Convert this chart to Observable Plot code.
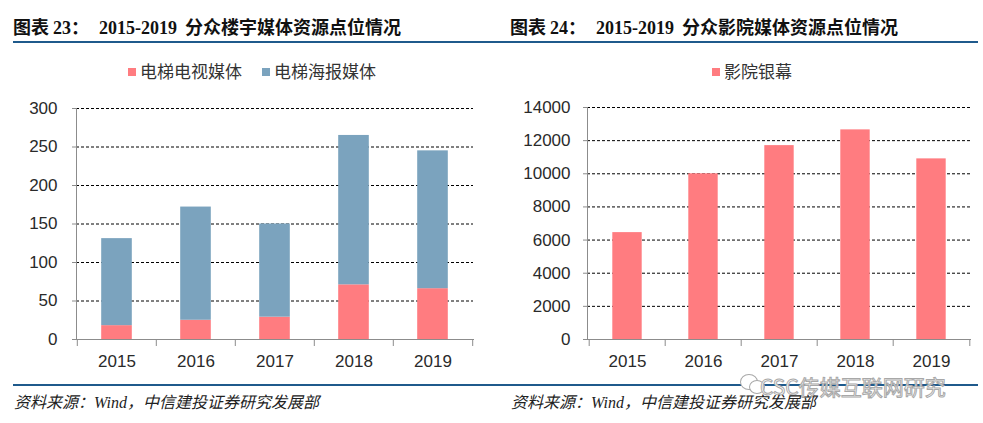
<!DOCTYPE html>
<html><head><meta charset="utf-8">
<script src="https://cdn.jsdelivr.net/npm/d3@7"></script>
<script src="https://cdn.jsdelivr.net/npm/@observablehq/plot@0.6"></script>
<style>
body{margin:0;background:#fff;}
#page{position:relative;width:983px;height:423px;overflow:hidden;background:#fff;font-family:"Liberation Sans",Arial,"Noto Sans CJK SC",sans-serif;}
.title{position:absolute;top:15px;font-family:"Liberation Serif","Noto Sans CJK SC",serif;font-weight:bold;font-size:18px;color:#111;white-space:nowrap;line-height:22px}
.title .cjk{font-family:"Noto Sans CJK SC",sans-serif;}
.rule{position:absolute;left:13px;width:965px;height:2px;background:#1f5a8c}
.legend{position:absolute;top:61px;font-size:17px;color:#333;white-space:nowrap;font-family:"Noto Sans CJK SC",sans-serif;line-height:20px}
.legend span.item{margin-right:20px}
.sw{display:inline-block;width:8px;height:8px;margin-right:4px;vertical-align:middle;position:relative;top:-1px}
.chart{position:absolute;top:95px}
.source{position:absolute;top:394px;font-family:"Liberation Serif","Noto Sans CJK SC",serif;font-style:italic;font-size:16px;color:#222;white-space:nowrap;line-height:18px}
.wm{position:absolute;left:760px;top:376px;font-family:"Noto Sans CJK SC",sans-serif;font-size:21px;color:#fff;-webkit-text-stroke:1px #a8a8a8;white-space:nowrap;line-height:20px}
.wmicon{position:absolute;border:1.5px solid #a8a8a8;border-radius:50%;background:#fff}
</style>
</head>
<body>
<div id="page">
  <div class="title" style="left:13px"><span class="cjk">图表</span><span style="margin-left:4px">23：</span><span style="margin-left:10px">2015-2019</span><span class="cjk" style="margin-left:8px">分众楼宇媒体资源点位情况</span></div>
  <div class="title" style="left:510px"><span class="cjk">图表</span><span style="margin-left:4px">24：</span><span style="margin-left:10px">2015-2019</span><span class="cjk" style="margin-left:8px">分众影院媒体资源点位情况</span></div>
  <div class="rule" style="top:41px"></div>
  <div class="legend" id="legend1" style="left:128px"></div>
  <div class="legend" id="legend2" style="left:712px"></div>
  <div class="chart" id="chart1" style="left:0px"></div>
  <div class="chart" id="chart2" style="left:490px"></div>
  <div class="rule" style="top:384px"></div>
  <div class="wmicon" style="left:740px;top:374px;width:16px;height:14px"></div>
  <div class="wmicon" style="left:749px;top:380px;width:14px;height:12px"></div>
  <div class="wm">CSC传媒互联网研究</div>
  <div class="source" style="left:14px">资料来源：Wind，中信建投证券研究发展部</div>
  <div class="source" style="left:511px">资料来源：Wind，中信建投证券研究发展部</div>
</div>
<script>
// ---- data ----
const years = ["2015", "2016", "2017", "2018", "2019"];
const seriesNames = ["电梯电视媒体", "电梯海报媒体"];
const tvMedia = [18, 25, 29, 71, 66];
const posterMedia = [113, 147, 121, 194, 179];
const cinemaName = "影院银幕";
const cinemaScreens = [6450, 10000, 11700, 12650, 10900];
const yTicksLeft = [0, 50, 100, 150, 200, 250, 300];
const yTicksRight = [0, 2000, 4000, 6000, 8000, 10000, 12000, 14000];
const colors = ["#FF7C80", "#7BA3BE"];

// ---- legends ----
function legend(el, names, cols) {
  el.innerHTML = names.map((n, i) =>
    `<span class="item"><span class="sw" style="background:${cols[i]}"></span>${n}</span>`).join("");
}
legend(document.getElementById("legend1"), seriesNames, colors);
legend(document.getElementById("legend2"), [cinemaName], [colors[0]]);

const axisGray = "#8c8c8c";
const H = 280, mB = 36;

function chart({width, marginLeft, marginRight, marginTop, data, ydomain, yticks, fill, colorScale, barW, tickPad}) {
  const step = (width - marginLeft - marginRight) / years.length;
  const inset = (step - barW) / 2;
  const plotH = H - marginTop - mB;
  const plotW = width - marginLeft - marginRight;
  return Plot.plot({
    width, height: H, marginLeft, marginRight, marginTop, marginBottom: mB,
    style: {fontFamily: "Liberation Sans, Arial, sans-serif", fontSize: "17px", color: "#2a2a2a", background: "transparent", overflow: "visible"},
    x: {domain: years, padding: 0, label: null},
    y: {domain: ydomain, label: null},
    color: colorScale,
    marks: [
      Plot.gridY(yticks.filter(v => v > 0), {stroke: "#000", strokeOpacity: 1, strokeDasharray: "3,2", strokeWidth: 1}),
      Plot.barY(data, {x: "year", y: "value", fill, insetLeft: inset, insetRight: inset}),
      Plot.ruleY(yticks, {stroke: axisGray, insetLeft: -4, insetRight: plotW}),
      Plot.frame({anchor: "left", stroke: axisGray}),
      Plot.frame({anchor: "bottom", stroke: axisGray}),
      Plot.ruleX(years, {x: d => d, dx: -step / 2, stroke: axisGray, insetTop: plotH, insetBottom: -7}),
      Plot.ruleX(years.slice(-1), {x: d => d, dx: step / 2, stroke: axisGray, insetTop: plotH, insetBottom: -7}),
      Plot.axisY(yticks, {tickSize: 0, tickPadding: tickPad, label: null, fill: "#2a2a2a", tickFormat: d => String(d)}),
      Plot.axisX({tickSize: 0, tickPadding: 15, label: null, fill: "#2a2a2a"})
    ]
  });
}

const rows1 = [];
seriesNames.forEach((s, i) => {
  const vals = i === 0 ? tvMedia : posterMedia;
  years.forEach((y, j) => rows1.push({year: y, series: s, value: vals[j]}));
});
document.getElementById("chart1").appendChild(chart({
  width: 490, marginLeft: 76, marginRight: 17, marginTop: 13,
  data: rows1, ydomain: [0, 300], yticks: yTicksLeft, fill: "series",
  colorScale: {domain: seriesNames, range: colors}, barW: 31, tickPad: 19
}));

const rows2 = years.map((y, j) => ({year: y, series: cinemaName, value: cinemaScreens[j]}));
document.getElementById("chart2").appendChild(chart({
  width: 493, marginLeft: 97, marginRight: 13, marginTop: 12,
  data: rows2, ydomain: [0, 14000], yticks: yTicksRight, fill: "series",
  colorScale: {domain: [cinemaName], range: [colors[0]]}, barW: 30, tickPad: 17
}));
</script>
</body></html>
